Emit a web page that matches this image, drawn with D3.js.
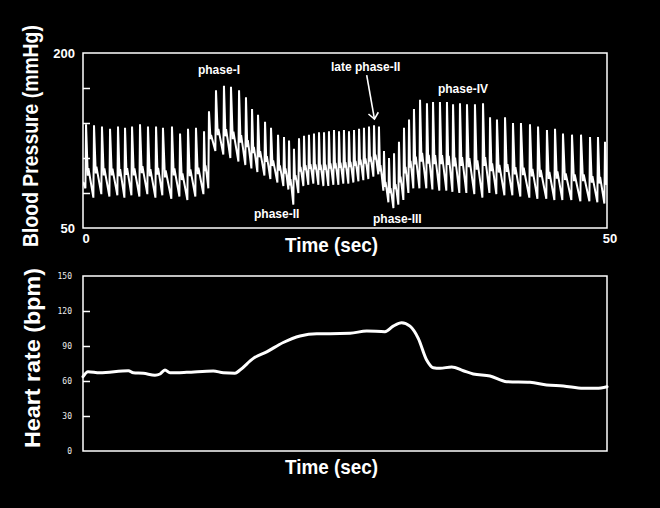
<!DOCTYPE html>
<html><head><meta charset="utf-8">
<script src="https://cdn.jsdelivr.net/npm/d3@7"></script>
<style>html,body{margin:0;padding:0;background:#000;}svg{display:block;}</style>
</head><body>
<script>
// ---------- DATA ----------
// Beat-by-beat arterial pressure (time of systolic peak, systolic, preceding diastolic trough)
const beatTime = [0.29,1.05,1.81,2.58,3.34,4.01,4.68,5.44,6.20,6.97,7.63,8.49,9.26,10.02,10.78,11.55,
  12.02,12.69,13.45,14.12,14.89,15.55,16.13,16.70,17.37,17.94,18.61,
  19.18,19.66,20.13,20.61,21.09,21.56,22.04,22.52,23.00,23.47,23.95,24.43,24.90,25.38,25.86,26.34,26.81,27.29,27.77,28.24,
  28.72,29.20,29.68,30.15,30.63,
  31.11,31.58,32.16,32.82,33.40,34.06,34.73,35.31,35.97,36.64,37.40,38.17,38.84,39.50,40.27,41.03,41.79,42.65,43.42,44.27,45.04,45.80,46.66,47.52,48.38,49.14,49.81];
const beatSys = [139,138,137,135,137,136,137,139,137,137,136,137,131,135,136,133,
  150,168,172,171,168,162,152,147,141,136,130,
  128,125,118,127,129,130,131,132,132,133,134,133,134,133,134,135,136,137,138,137,
  116,110,114,124,136,
  143,152,160,157,158,158,158,156,157,156,156,157,145,143,145,140,140,139,137,134,135,131,130,130,128,128,124];
const beatDia = [84,76,79,77,78,76,78,77,79,76,78,75,77,74,77,79,
  84,116,113,110,107,104,101,98,95,92,89,
  86,83,70,80,86,87,88,87,86,86,87,87,88,88,89,90,91,92,94,96,
  82,72,67,70,74,
  80,84,84,84,83,82,82,81,80,80,79,76,80,79,78,78,77,76,75,75,74,74,74,73,73,72,71];

// Heart rate trace
const hrTime  = [0,0.48,1.59,4.33,4.80,5.76,6.87,7.35,7.82,8.30,9.89,12.43,13.39,14.50,14.98,16.25,17.53,19.11,20.71,22.3,23.57,25.48,27.07,28.81,29.6,30.4,31.2,31.99,32.79,33.42,34.06,35.18,36.29,37.24,38.84,40.43,42.65,44.24,45.83,47.74,49.01,50];
const hrValue = [63.7,68,67,68.8,67,66.6,65,66,69.4,67,67.4,68.6,67,66.6,69.4,79.4,85,93,98.6,100.6,100.6,100.9,102.9,102.3,107,110,107,96.6,78,71.4,70.9,72,68.8,66,64.3,59.4,58.9,56.6,55.7,53.7,53.7,55.1];

// Axis ticks
const bpTickLabels = [50, 200];
const bpTickMarks = [80, 110, 140, 170];
const timeTickLabels = [0, 50];
const hrTickLabels = [0, 30, 60, 90, 120, 150];
const hrTickMarks = [30, 60, 90, 120];

// Annotations (time, mmHg at text baseline)
const annoText = ["phase-I", "phase-II", "late phase-II", "phase-III", "phase-IV"];
const annoTime = [10.97, 16.32, 23.66, 27.67, 33.87];
const annoValue = [182.4, 59, 185, 54.7, 166.1];
const arrowFrom = [27.07, 181];
const arrowTo = [27.81, 143.4];

// ---------- CHART ----------
const W = 660, H = 508;
const svg = d3.select("body").append("svg").attr("width", W).attr("height", H)
  .style("background", "#000");

const x = d3.scaleLinear().domain([0, 50]).range([83, 607]);
const yBP = d3.scaleLinear().domain([50, 200]).range([228, 53]);
const yHR = d3.scaleLinear().domain([0, 150]).range([451, 276]);

const FONT = "'Liberation Sans', Arial, Helvetica, sans-serif";

svg.append("defs").append("clipPath").attr("id", "clipBP")
  .append("rect").attr("x", x(0)).attr("y", yBP(200)).attr("width", x(50) - x(0)).attr("height", yBP(50) - yBP(200));
svg.select("defs").append("marker").attr("id", "arrowHead")
  .attr("viewBox", "-8 -6 10 12").attr("refX", 0).attr("refY", 0)
  .attr("markerWidth", 10).attr("markerHeight", 12).attr("markerUnits", "userSpaceOnUse")
  .attr("orient", "auto")
  .append("path").attr("d", "M-6,-5 L0,0 L-6,5").attr("fill", "none").attr("stroke", "#fff").attr("stroke-width", 1.6);

// Build waveform points from beats
const pts = [];
pts.push([0, beatDia[0] + 0.1 * (beatSys[0] - beatDia[0])]);
for (let i = 0; i < beatTime.length; i++) {
  const t = beatTime[i], s = beatSys[i], d = beatDia[i];
  const tn = i + 1 < beatTime.length ? beatTime[i + 1] : t + 0.7;
  const dn = i + 1 < beatTime.length ? beatDia[i + 1] : d;
  const p = tn - t;
  pts.push([t - 0.06, d]);
  pts.push([t, s]);
  pts.push([t + 0.22 * p, dn + 0.30 * (s - dn)]);
  pts.push([t + 0.30 * p, dn + 0.40 * (s - dn)]);
  pts.push([t + 0.55 * p, dn + 0.24 * (s - dn)]);
}
pts.push([50.5, beatDia[beatDia.length - 1]]);

svg.append("path").datum(pts)
  .attr("clip-path", "url(#clipBP)")
  .attr("fill", "none").attr("stroke", "#fff").attr("stroke-width", 2).attr("stroke-linejoin", "miter")
  .attr("d", d3.line().x(d => x(d[0])).y(d => yBP(d[1])));

// Frames
svg.append("rect").attr("x", x(0)).attr("y", yBP(200)).attr("width", x(50) - x(0)).attr("height", yBP(50) - yBP(200))
  .attr("fill", "none").attr("stroke", "#fff").attr("stroke-width", 1.5);
svg.append("rect").attr("x", x(0)).attr("y", yHR(150)).attr("width", x(50) - x(0)).attr("height", yHR(0) - yHR(150))
  .attr("fill", "none").attr("stroke", "#fff").attr("stroke-width", 1.5);

function styleAxis(g) {
  g.select(".domain").remove();
  g.selectAll(".tick line").attr("stroke", "#fff").attr("stroke-width", 1.5);
  g.selectAll("text").attr("fill", "#fff");
}

// BP inward tick marks
svg.append("g").attr("transform", `translate(${x(0)},0)`)
  .call(d3.axisRight(yBP).tickValues(bpTickMarks).tickSize(7).tickFormat(""))
  .call(styleAxis);
// BP labels
svg.append("g").attr("transform", `translate(${x(0)},0)`)
  .call(d3.axisLeft(yBP).tickValues(bpTickLabels).tickSize(0).tickPadding(8))
  .call(styleAxis)
  .selectAll("text").attr("font-family", FONT).attr("font-weight", "bold").attr("font-size", 13);
// Time labels
svg.append("g").attr("transform", `translate(0,${yBP(50)})`)
  .call(d3.axisBottom(x).tickValues(timeTickLabels).tickSize(0))
  .call(styleAxis)
  .selectAll("text").attr("font-family", FONT).attr("font-weight", "bold").attr("font-size", 13)
  .attr("y", 15).attr("dy", 0).attr("dx", 2.5);

// HR inward tick marks
svg.append("g").attr("transform", `translate(${x(0)},0)`)
  .call(d3.axisRight(yHR).tickValues(hrTickMarks).tickSize(7).tickFormat(""))
  .call(styleAxis);
svg.append("g").attr("transform", `translate(${x(0)},0)`)
  .call(d3.axisLeft(yHR).tickValues(hrTickLabels).tickSize(0).tickPadding(11))
  .call(styleAxis)
  .selectAll("text").attr("font-family", "'DejaVu Sans Mono', monospace").attr("font-size", 8).attr("fill", "#eee");

// HR line
svg.append("path").datum(hrTime.map((t, i) => [t, hrValue[i]]))
  .attr("fill", "none").attr("stroke", "#fff").attr("stroke-width", 3).attr("stroke-linejoin", "round").attr("stroke-linecap", "round")
  .attr("d", d3.line().x(d => x(d[0])).y(d => yHR(d[1])).curve(d3.curveMonotoneX));

// Titles (condensed horizontally with a scale so their box matches the reference)
function title(txt, tx, ty, rot, size, len) {
  const t = svg.append("text").text(txt)
    .attr("text-anchor", "middle").attr("fill", "#fff")
    .attr("font-family", FONT).attr("font-weight", "bold").attr("font-size", size);
  const natural = t.node().getComputedTextLength();
  const sx = natural > 0 ? len / natural : 1;
  t.attr("transform", `translate(${tx},${ty})` + (rot ? ` rotate(${rot})` : "") + ` scale(${sx},1)`);
}
title("Blood Pressure (mmHg)", 38, 136, -90, 22, 222);
title("Heart rate (bpm)", 39.5, 358, -90, 22, 180);
title("Time (sec)", 331.5, 251.5, 0, 20, 93);
title("Time (sec)", 331.5, 474, 0, 20, 93);

// Annotations
svg.append("g").selectAll("text").data(annoText).join("text")
  .attr("x", (d, i) => x(annoTime[i])).attr("y", (d, i) => yBP(annoValue[i]))
  .attr("fill", "#fff").attr("font-family", FONT).attr("font-weight", "bold").attr("font-size", 12)
  .text(d => d);
svg.append("line")
  .attr("x1", x(arrowFrom[0])).attr("y1", yBP(arrowFrom[1]))
  .attr("x2", x(arrowTo[0])).attr("y2", yBP(arrowTo[1]))
  .attr("stroke", "#fff").attr("stroke-width", 1.6).attr("marker-end", "url(#arrowHead)");
</script>
</body></html>
